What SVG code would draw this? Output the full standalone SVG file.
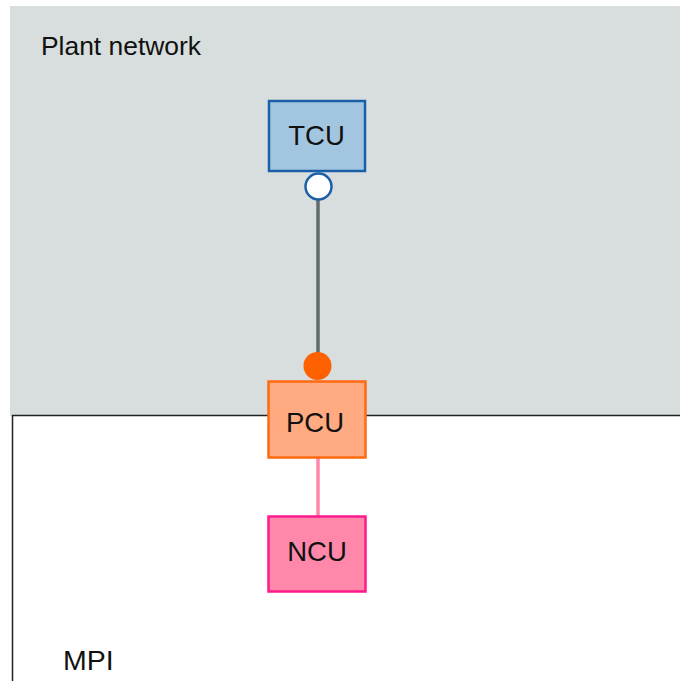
<svg xmlns="http://www.w3.org/2000/svg" width="680" height="681" viewBox="0 0 680 681">
<style>
.lbl{font-family:"Liberation Sans",Arial,sans-serif;fill:#111;}
.node{stroke-width:2.5;}
.nt{font-size:27.5px;text-anchor:middle;}
</style>
<rect x="0" y="0" width="680" height="681" fill="#ffffff"/>
<g id="plant-network">
<rect x="10" y="6" width="672" height="410" fill="#d8dddd"/>
<text class="lbl" x="41" y="55" font-size="25" textLength="160" lengthAdjust="spacingAndGlyphs">Plant network</text>
</g>
<g id="mpi">
<rect x="12.5" y="415.5" width="680" height="280" fill="#ffffff" stroke="#222" stroke-width="1.5"/>
<text class="lbl" x="63" y="670" font-size="28.5">MPI</text>
</g>
<g id="connectors">
<line x1="318" y1="200" x2="318" y2="354" stroke="#5f6b6d" stroke-width="3.5"/>
<line x1="318" y1="458" x2="318" y2="516" stroke="#ff88aa" stroke-width="3.5"/>
<circle cx="318.5" cy="186.5" r="13" fill="#ffffff" stroke="#1a5fa8" stroke-width="2.5"/>
<circle cx="317.5" cy="366" r="14" fill="#ff6000"/>
</g>
<g id="TCU">
<rect class="node" x="269" y="101" width="96" height="70" fill="#a3c6e0" stroke="#1a5fa8"/>
<text class="lbl nt" x="316.5" y="145">TCU</text>
</g>
<g id="PCU">
<rect class="node" x="268.5" y="381.5" width="97" height="76" fill="#ffaa80" stroke="#ff6a10"/>
<text class="lbl nt" x="315" y="432">PCU</text>
</g>
<g id="NCU">
<rect class="node" x="268.5" y="516.5" width="97" height="75" fill="#ff88aa" stroke="#ff1a8c"/>
<text class="lbl nt" x="317" y="561">NCU</text>
</g>
</svg>
